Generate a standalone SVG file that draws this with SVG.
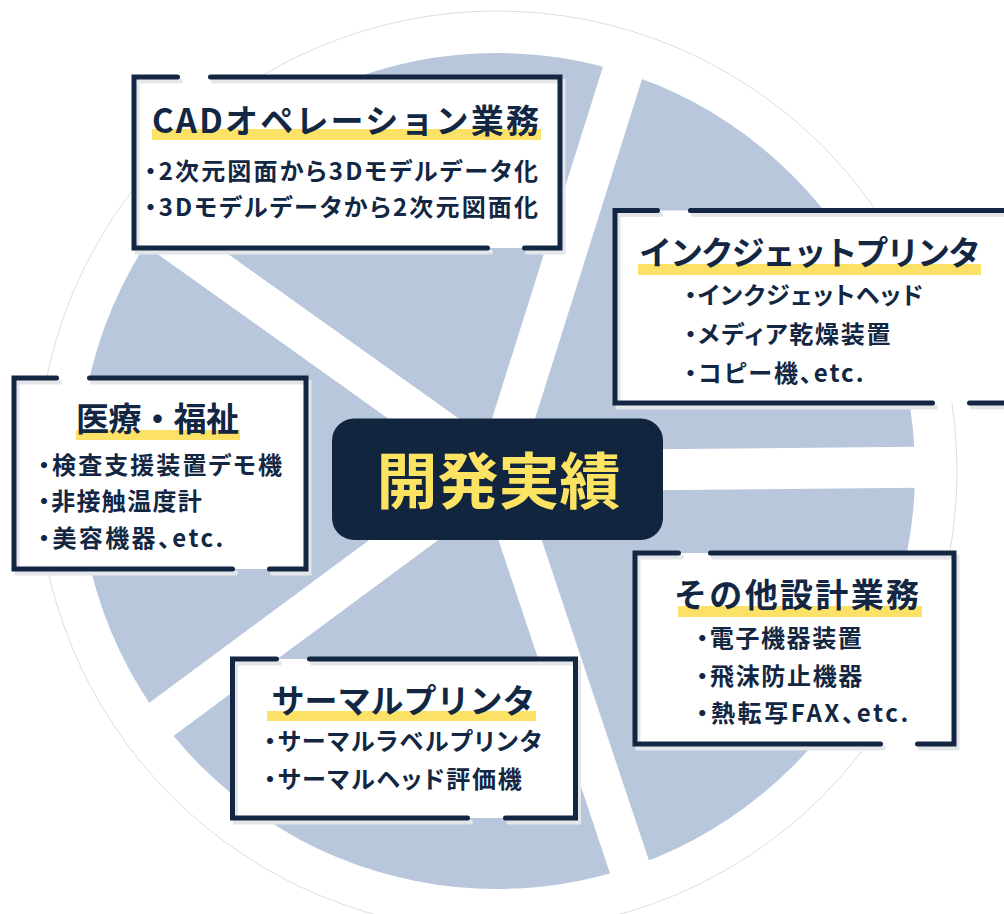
<svg xmlns="http://www.w3.org/2000/svg" width="1004" height="914" viewBox="0 0 1004 914">
<style>
.pie{fill:#b8c7dc}
.gap{fill:#fff}
.ring{fill:none;stroke:#d4d4d4;stroke-width:0.8}
.card{fill:#fff}
.shadow{fill:none;stroke:#e4e6ea;stroke-width:5;stroke-linecap:round}
.border{fill:none;stroke:#132743;stroke-width:5;stroke-linecap:round;stroke-linejoin:miter}
.hl{fill:#fbe267}
.title{font-family:"Noto Sans CJK JP","Noto Sans",sans-serif;font-weight:700;font-size:33px;fill:#132743}
.item{font-family:"Noto Sans CJK JP","Noto Sans",sans-serif;font-weight:700;font-size:24px;fill:#132743;font-feature-settings:"palt"}
.cbox{fill:#12253f}
.ctext{font-family:"Noto Sans CJK JP","Noto Sans",sans-serif;font-weight:700;font-size:61px;fill:#fde362}
</style>
<rect width="1004" height="914" fill="#fff"/>
<g id="pie">
  <circle class="ring" cx="497" cy="471" r="460"/>
  <circle class="pie" cx="497" cy="471" r="418"/>
  <g transform="translate(497 471)">
    <rect class="gap" x="0" y="-20.5" width="445" height="41" transform="rotate(-0.5)"/>
    <rect class="gap" x="0" y="-20.5" width="445" height="41" transform="rotate(71.5)"/>
    <rect class="gap" x="0" y="-20.5" width="445" height="41" transform="rotate(143.5)"/>
    <rect class="gap" x="0" y="-20.5" width="445" height="41" transform="rotate(215.5)"/>
    <rect class="gap" x="0" y="-20.5" width="445" height="41" transform="rotate(287.5)"/>
  </g>
</g>
<g id="center">
  <rect class="cbox" x="332" y="418.5" width="331" height="121.5" rx="22"/>
  <text class="ctext" x="498.4" y="504" text-anchor="middle">開発実績</text>
</g>
<g id="cad">
  <rect class="card" x="134" y="77" width="426" height="171"/>
  <path class="shadow" transform="translate(3 4)" d="M210.5 77 H560 V248 H524.5 M487.5 248 H134 V77 H177.5"/>
  <path class="border" d="M210.5 77 H560 V248 H524.5 M487.5 248 H134 V77 H177.5"/>
  <rect class="hl" x="152" y="129" width="389" height="11"/>
  <text class="title" x="152" y="133" textLength="387" lengthAdjust="spacing">CADオペレーション業務</text>
  <text class="item" x="144.5" y="180" textLength="393.5" lengthAdjust="spacing">・2次元図面から3Dモデルデータ化</text>
  <text class="item" x="144.5" y="215.5" textLength="393.5" lengthAdjust="spacing">・3Dモデルデータから2次元図面化</text>
</g>
<g id="inkjet">
  <rect class="card" x="615" y="210.5" width="397" height="192.5"/>
  <path class="shadow" transform="translate(3 4)" d="M690.5 210.5 H1012 V403 H969.5 M932.5 403 H615 V210.5 H657.5"/>
  <path class="border" d="M690.5 210.5 H1012 V403 H969.5 M932.5 403 H615 V210.5 H657.5"/>
  <rect class="hl" x="638" y="264" width="343" height="11"/>
  <text class="title" x="639" y="265" textLength="342" lengthAdjust="spacing">インクジェットプリンタ</text>
  <text class="item" x="684.5" y="303.5" textLength="238.5" lengthAdjust="spacing">・インクジェットヘッド</text>
  <text class="item" x="684.5" y="343" textLength="206" lengthAdjust="spacing">・メディア乾燥装置</text>
  <text class="item" x="684.5" y="381.5" textLength="179" lengthAdjust="spacing">・コピー機、etc.</text>
</g>
<g id="medical">
  <rect class="card" x="14" y="378" width="292" height="191"/>
  <path class="shadow" transform="translate(3 4)" d="M89.5 378 H306 V569 H269.5 M232.5 569 H14 V378 H56.5"/>
  <path class="border" d="M89.5 378 H306 V569 H269.5 M232.5 569 H14 V378 H56.5"/>
  <rect class="hl" x="76" y="430" width="164" height="10"/>
  <text class="title" x="76" y="431" textLength="163" lengthAdjust="spacing">医療・福祉</text>
  <text class="item" x="38" y="473.5" textLength="244" lengthAdjust="spacing">・検査支援装置デモ機</text>
  <text class="item" x="38" y="510" textLength="163.7" lengthAdjust="spacing">・非接触温度計</text>
  <text class="item" x="38" y="547" textLength="185.3" lengthAdjust="spacing">・美容機器、etc.</text>
</g>
<g id="other">
  <rect class="card" x="635" y="553" width="319" height="191"/>
  <path class="shadow" transform="translate(3 4)" d="M710.5 553 H954 V744 H917.5 M880.5 744 H635 V553 H678.5"/>
  <path class="border" d="M710.5 553 H954 V744 H917.5 M880.5 744 H635 V553 H678.5"/>
  <rect class="hl" x="678" y="606" width="244" height="11"/>
  <text class="title" x="674" y="606.5" textLength="245" lengthAdjust="spacing">その他設計業務</text>
  <text class="item" x="696.3" y="646.5" textLength="165.4" lengthAdjust="spacing">・電子機器装置</text>
  <text class="item" x="696.3" y="684.5" textLength="166" lengthAdjust="spacing">・飛沫防止機器</text>
  <text class="item" x="696.3" y="722" textLength="212" lengthAdjust="spacing">・熱転写FAX、etc.</text>
</g>
<g id="thermal">
  <rect class="card" x="232.5" y="659" width="343" height="159"/>
  <path class="shadow" transform="translate(3 4)" d="M309.5 659 H575.5 V818 H505.5 M467.5 818 H232.5 V659 H276.5"/>
  <path class="border" d="M309.5 659 H575.5 V818 H505.5 M467.5 818 H232.5 V659 H276.5"/>
  <rect class="hl" x="267" y="711" width="269" height="10"/>
  <text class="title" x="271.5" y="713" textLength="264" lengthAdjust="spacing">サーマルプリンタ</text>
  <text class="item" x="264" y="750" textLength="277.7" lengthAdjust="spacing">・サーマルラベルプリンタ</text>
  <text class="item" x="264" y="787.5" textLength="257.7" lengthAdjust="spacing">・サーマルヘッド評価機</text>
</g>
</svg>
